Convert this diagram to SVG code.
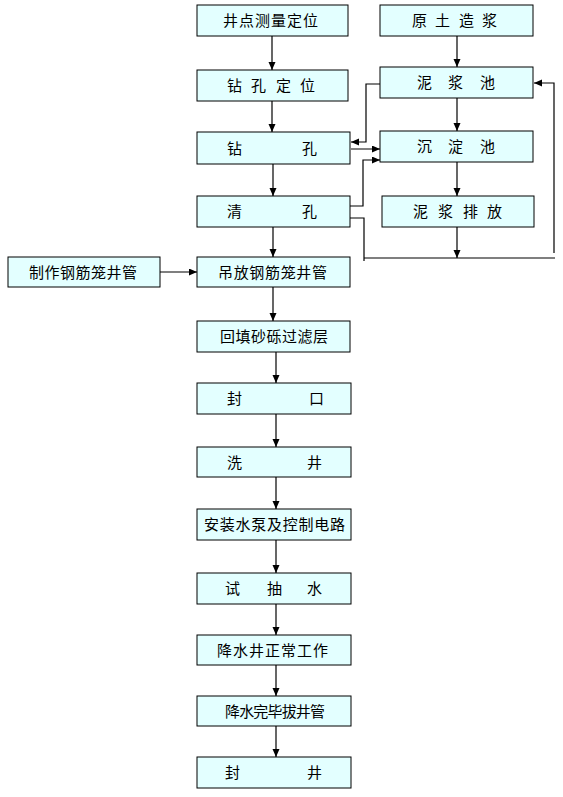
<svg xmlns="http://www.w3.org/2000/svg" width="563" height="797" viewBox="0 0 563 797">
<style>
.box{fill:#E3FFFF;stroke:#000;stroke-width:1}
.t{font-family:"Noto Sans CJK SC","Liberation Sans",sans-serif;font-size:15px;fill:#000}
.c{fill:none;stroke:#000;stroke-width:1.2}
.g{fill:none;stroke:#808080;stroke-width:2}
</style>
<defs>
<marker id="ah" markerUnits="userSpaceOnUse" markerWidth="9" markerHeight="8" refX="8" refY="3.5" orient="auto">
<path d="M0,0 L8,3.5 L0,7 z" fill="#000"/>
</marker>
</defs>
<rect width="563" height="797" fill="#fff"/>
<g id="connectors">
<line class="c" x1="272" y1="36" x2="272" y2="70" marker-end="url(#ah)"/>
<line class="c" x1="272" y1="101" x2="272" y2="132" marker-end="url(#ah)"/>
<line class="c" x1="273" y1="164" x2="273" y2="196" marker-end="url(#ah)"/>
<line class="c" x1="273" y1="227" x2="273" y2="257" marker-end="url(#ah)"/>
<line class="c" x1="273" y1="287" x2="273" y2="321" marker-end="url(#ah)"/>
<line class="c" x1="276" y1="352" x2="276" y2="383" marker-end="url(#ah)"/>
<line class="c" x1="276" y1="414" x2="276" y2="447" marker-end="url(#ah)"/>
<line class="c" x1="276" y1="477" x2="276" y2="509" marker-end="url(#ah)"/>
<line class="c" x1="276" y1="540" x2="276" y2="573" marker-end="url(#ah)"/>
<line class="c" x1="276" y1="604" x2="276" y2="635" marker-end="url(#ah)"/>
<line class="c" x1="276" y1="665" x2="276" y2="696" marker-end="url(#ah)"/>
<line class="c" x1="276" y1="726" x2="276" y2="757" marker-end="url(#ah)"/>
<line class="c" x1="457" y1="36" x2="457" y2="67" marker-end="url(#ah)"/>
<line class="c" x1="457" y1="98" x2="457" y2="131" marker-end="url(#ah)"/>
<line class="c" x1="457" y1="162" x2="457" y2="196" marker-end="url(#ah)"/>
<line class="c" x1="457" y1="227" x2="457" y2="258" marker-end="url(#ah)"/>
<line class="c" x1="160" y1="272" x2="197" y2="272" marker-end="url(#ah)"/>
<polyline class="c" points="380,84 366,84 366,142 351,142" marker-end="url(#ah)"/>
<line class="g" x1="351" y1="149" x2="380" y2="149" marker-end="url(#ah)"/>
<polyline class="c" points="350,206 363,206 363,160 380,160" marker-end="url(#ah)"/>
<polyline class="c" points="350,218 364,218 364,261"/>
<line class="c" x1="364" y1="258" x2="555" y2="258"/>
<polyline class="c" points="554,253 554,83 534,83" marker-end="url(#ah)"/>
</g>
<g id="n1"><rect class="box" x="197" y="5" width="151" height="31"/><text class="t" x="223" y="26" textLength="95" lengthAdjust="spacing">井点测量定位</text></g>
<g id="n2"><rect class="box" x="197" y="70" width="151" height="31"/><text class="t" y="91"><tspan x="227">钻</tspan> <tspan x="251">孔</tspan> <tspan x="276">定</tspan> <tspan x="300">位</tspan></text></g>
<g id="n3"><rect class="box" x="197" y="132" width="153" height="32"/><text class="t" y="154"><tspan x="227">钻</tspan> <tspan x="302">孔</tspan></text></g>
<g id="n4"><rect class="box" x="197" y="196" width="153" height="31"/><text class="t" y="217"><tspan x="227">清</tspan> <tspan x="302">孔</tspan></text></g>
<g id="n5"><rect class="box" x="197" y="257" width="153" height="30"/><text class="t" x="218" y="278" textLength="109" lengthAdjust="spacing">吊放钢筋笼井管</text></g>
<g id="n6"><rect class="box" x="197" y="321" width="153" height="31"/><text class="t" x="220" y="342" textLength="108" lengthAdjust="spacing">回填砂砾过滤层</text></g>
<g id="n7"><rect class="box" x="197" y="383" width="154" height="31"/><text class="t" y="404"><tspan x="227">封</tspan> <tspan x="309">口</tspan></text></g>
<g id="n8"><rect class="box" x="197" y="447" width="154" height="30"/><text class="t" y="468"><tspan x="227">洗</tspan> <tspan x="307">井</tspan></text></g>
<g id="n9"><rect class="box" x="197" y="509" width="154" height="31"/><text class="t" x="204" y="530" textLength="141" lengthAdjust="spacing">安装水泵及控制电路</text></g>
<g id="n10"><rect class="box" x="197" y="573" width="154" height="31"/><text class="t" y="594"><tspan x="225">试</tspan> <tspan x="267">抽</tspan> <tspan x="307">水</tspan></text></g>
<g id="n11"><rect class="box" x="197" y="635" width="154" height="30"/><text class="t" x="217" y="656" textLength="111" lengthAdjust="spacing">降水井正常工作</text></g>
<g id="n12"><rect class="box" x="197" y="696" width="154" height="30"/><text class="t" x="225" y="717" textLength="100" lengthAdjust="spacing">降水完毕拔井管</text></g>
<g id="n13"><rect class="box" x="197" y="757" width="154" height="31"/><text class="t" y="778"><tspan x="225">封</tspan> <tspan x="307">井</tspan></text></g>
<g id="r1"><rect class="box" x="380" y="5" width="153" height="31"/><text class="t" y="26"><tspan x="412">原</tspan> <tspan x="435">土</tspan> <tspan x="459">造</tspan> <tspan x="482">浆</tspan></text></g>
<g id="r2"><rect class="box" x="380" y="67" width="153" height="31"/><text class="t" y="88"><tspan x="417">泥</tspan> <tspan x="448">浆</tspan> <tspan x="480">池</tspan></text></g>
<g id="r3"><rect class="box" x="380" y="131" width="153" height="31"/><text class="t" y="152"><tspan x="417">沉</tspan> <tspan x="448">淀</tspan> <tspan x="480">池</tspan></text></g>
<g id="r4"><rect class="box" x="382" y="196" width="152" height="31"/><text class="t" y="217"><tspan x="413">泥</tspan> <tspan x="438">浆</tspan> <tspan x="463">排</tspan> <tspan x="487">放</tspan></text></g>
<g id="l1"><rect class="box" x="8" y="257" width="152" height="30"/><text class="t" x="29" y="278" textLength="108" lengthAdjust="spacing">制作钢筋笼井管</text></g>
</svg>
